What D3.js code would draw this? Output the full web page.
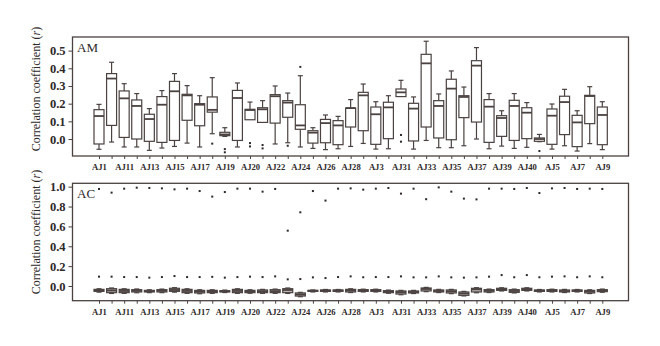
<!DOCTYPE html>
<html><head><meta charset="utf-8">
<script src="https://cdn.jsdelivr.net/npm/d3@7"></script>
<style>
html,body{margin:0;padding:0;background:#fff;}
svg{display:block;}
</style></head>
<body><svg id="c" width="660" height="346"></svg>
<script>
const categories = ["AJ1","AJ10","AJ11","AJ12","AJ13","AJ14","AJ15","AJ16","AJ17","AJ18","AJ19","AJ2","AJ20","AJ21","AJ22","AJ23","AJ24","AJ25","AJ26","AJ27","AJ28","AJ29","AJ3","AJ30","AJ31","AJ32","AJ33","AJ34","AJ35","AJ36","AJ37","AJ38","AJ39","AJ4","AJ40","AJ41","AJ5","AJ6","AJ7","AJ8","AJ9"];

// AM panel
const amLow  = [-0.058,-0.017,-0.045,-0.045,-0.064,-0.051,-0.042,-0.023,-0.045,0.030,0.015,-0.045,0.109,0.094,-0.028,-0.021,-0.045,-0.053,-0.060,-0.055,-0.042,-0.025,-0.057,-0.055,0.240,-0.057,-0.008,-0.049,-0.049,-0.038,0.000,-0.055,-0.040,-0.053,-0.047,-0.015,-0.057,-0.038,-0.068,-0.026,-0.060];
const amQ1   = [-0.028,0.077,0.009,0.000,-0.013,-0.019,-0.008,0.106,0.075,0.152,0.019,-0.008,0.109,0.094,0.090,0.123,0.055,-0.023,-0.021,-0.032,0.068,0.047,-0.030,0.002,0.240,-0.011,0.068,0.006,-0.004,0.121,0.096,-0.019,0.015,-0.008,0.002,-0.013,-0.030,0.025,-0.043,0.087,-0.032];
const amMed  = [0.130,0.342,0.230,0.187,0.113,0.194,0.270,0.247,0.194,0.165,0.026,0.232,0.164,0.168,0.242,0.206,0.077,0.036,0.090,0.077,0.175,0.247,0.140,0.179,0.264,0.172,0.428,0.187,0.285,0.238,0.415,0.183,0.119,0.187,0.149,0.000,0.132,0.209,0.094,0.243,0.136];
const amQ3   = [0.166,0.370,0.272,0.221,0.140,0.240,0.326,0.253,0.200,0.238,0.038,0.275,0.168,0.177,0.251,0.217,0.194,0.047,0.111,0.104,0.175,0.264,0.181,0.208,0.283,0.202,0.479,0.217,0.338,0.245,0.443,0.223,0.132,0.219,0.177,0.006,0.170,0.242,0.134,0.247,0.181];
const amHigh = [0.196,0.434,0.313,0.257,0.172,0.274,0.370,0.302,0.245,0.347,0.064,0.317,0.209,0.217,0.300,0.260,0.358,0.064,0.136,0.128,0.223,0.311,0.211,0.245,0.332,0.238,0.553,0.255,0.385,0.294,0.517,0.257,0.160,0.257,0.206,0.026,0.198,0.281,0.160,0.296,0.211];
const amOutliers = [[],[],[],[],[],[],[],[],[],[-0.026],[-0.057,-0.075],[],[-0.023,-0.042],[-0.034,-0.053],[],[-0.038],[0.408],[],[],[],[],[],[],[],[0.023,-0.015],[],[],[],[],[],[],[],[],[],[],[-0.068],[],[],[],[],[]];

// AC panel
const acLow  = [-0.062,-0.075,-0.074,-0.068,-0.067,-0.067,-0.062,-0.074,-0.078,-0.074,-0.066,-0.074,-0.073,-0.074,-0.074,-0.075,-0.108,-0.060,-0.060,-0.060,-0.066,-0.060,-0.060,-0.073,-0.088,-0.076,-0.057,-0.066,-0.077,-0.100,-0.068,-0.066,-0.050,-0.070,-0.050,-0.060,-0.060,-0.066,-0.060,-0.076,-0.063];
const acQ1   = [-0.054,-0.067,-0.067,-0.060,-0.060,-0.060,-0.054,-0.067,-0.070,-0.067,-0.060,-0.067,-0.067,-0.067,-0.067,-0.067,-0.101,-0.054,-0.054,-0.054,-0.060,-0.054,-0.054,-0.067,-0.081,-0.070,-0.050,-0.060,-0.070,-0.094,-0.060,-0.060,-0.044,-0.064,-0.044,-0.054,-0.054,-0.060,-0.054,-0.070,-0.057];
const acMed  = [-0.045,-0.045,-0.050,-0.048,-0.052,-0.048,-0.040,-0.050,-0.057,-0.055,-0.053,-0.050,-0.055,-0.053,-0.052,-0.040,-0.085,-0.048,-0.046,-0.046,-0.045,-0.044,-0.044,-0.057,-0.062,-0.060,-0.030,-0.050,-0.053,-0.075,-0.033,-0.048,-0.033,-0.050,-0.032,-0.047,-0.045,-0.050,-0.047,-0.056,-0.047];
const acQ3   = [-0.034,-0.027,-0.034,-0.037,-0.044,-0.037,-0.023,-0.034,-0.044,-0.044,-0.047,-0.034,-0.044,-0.040,-0.037,-0.027,-0.070,-0.044,-0.040,-0.040,-0.034,-0.037,-0.037,-0.047,-0.050,-0.050,-0.020,-0.040,-0.040,-0.060,-0.023,-0.037,-0.023,-0.037,-0.023,-0.040,-0.037,-0.040,-0.040,-0.044,-0.037];
const acHigh = [-0.028,-0.020,-0.028,-0.030,-0.038,-0.031,-0.017,-0.028,-0.038,-0.038,-0.041,-0.028,-0.038,-0.034,-0.031,-0.020,-0.064,-0.040,-0.035,-0.035,-0.028,-0.032,-0.032,-0.041,-0.044,-0.044,-0.014,-0.034,-0.034,-0.054,-0.017,-0.031,-0.018,-0.031,-0.018,-0.035,-0.032,-0.034,-0.035,-0.038,-0.031];
const acOutliers = [[0.977,0.094],[0.940,0.094],[0.980,0.090],[0.990,0.090],[0.987,0.084],[0.983,0.090],[0.973,0.100],[0.980,0.090],[0.956,0.090],[0.900,0.092],[0.946,0.084],[0.980,0.090],[0.980,0.094],[0.950,0.090],[0.977,0.097],[0.557,0.067],[0.742,0.070],[0.956,0.087],[0.860,0.080],[0.980,0.090],[0.983,0.097],[0.970,0.088],[0.980,0.090],[0.987,0.090],[0.930,0.097],[0.980,0.087],[0.874,0.087],[0.993,0.097],[0.950,0.087],[0.880,0.084],[0.872,0.087],[0.980,0.094],[0.980,0.110],[0.977,0.088],[0.987,0.110],[0.936,0.088],[0.983,0.094],[0.987,0.097],[0.977,0.088],[0.980,0.097],[0.977,0.088]];

const amTicks = [0.0,0.1,0.2,0.3,0.4,0.5];
const acTicks = [0.0,0.2,0.4,0.6,0.8,1.0];

const INK = "#4a4240";
const svg = d3.select("#c");
svg.append("rect").attr("width",660).attr("height",346).attr("fill","#fff");

const left = 72.5, right = 628.5;
const x = d3.scalePoint().domain(categories).range([99, 602.3]);

function panel(cfg){
  const y = d3.scaleLinear().domain(cfg.domain).range([cfg.bottom, cfg.top]);
  const g = svg.append("g");
  // y axis
  const ya = g.append("g").attr("transform",`translate(${left},0)`)
    .call(d3.axisLeft(y).tickValues(cfg.ticks).tickFormat(d3.format(".1f")).tickSize(4).tickPadding(3));
  ya.select(".domain").remove();
  ya.selectAll("line").attr("stroke",INK).attr("stroke-width",1);
  ya.selectAll("text").attr("font-family","'Liberation Serif',serif").attr("font-weight","bold")
    .attr("font-size",12.5).attr("fill","#2e2828");
  // x axis
  const xa = g.append("g").attr("transform",`translate(0,${cfg.bottom})`)
    .call(d3.axisBottom(x).tickSize(3).tickPadding(5).tickFormat((d,i)=> i%2===0 ? d : ""));
  xa.select(".domain").remove();
  xa.selectAll("line").attr("stroke",INK).attr("stroke-width",1);
  xa.selectAll("text").attr("font-family","'Liberation Serif',serif").attr("font-weight","bold")
    .attr("font-size",8.6).attr("fill","#2e2828");
  // frame
  g.append("rect").attr("x",left).attr("y",cfg.top).attr("width",right-left).attr("height",cfg.bottom-cfg.top)
    .attr("fill","none").attr("stroke",INK).attr("stroke-width",1.3);
  // panel label
  g.append("text").attr("x",77).attr("y",cfg.top+15).text(cfg.label)
    .attr("font-family","'Liberation Serif',serif").attr("font-size",13).attr("fill","#2e2828");
  // y title
  const t = g.append("text").attr("transform",`translate(40,${cfg.titleY}) rotate(-90)`)
    .attr("text-anchor","middle").attr("font-family","'Liberation Serif',serif").attr("font-size",12).attr("fill","#2e2828");
  t.append("tspan").text("Correlation coefficient (");
  t.append("tspan").attr("font-style","italic").text("r");
  t.append("tspan").text(")");

  const bw = 10, cw = 5;
  const boxes = g.append("g");
  categories.forEach((c,i)=>{
    const cx = x(c);
    const bg = boxes.append("g").attr("stroke",INK).attr("fill","none");
    if (cfg.high[i] > cfg.q3[i]) {
      bg.append("line").attr("x1",cx).attr("x2",cx).attr("y1",y(cfg.high[i])).attr("y2",y(cfg.q3[i])).attr("stroke-width",1.2);
      bg.append("line").attr("x1",cx-cw/2).attr("x2",cx+cw/2).attr("y1",y(cfg.high[i])).attr("y2",y(cfg.high[i])).attr("stroke-width",1.2);
    }
    if (cfg.low[i] < cfg.q1[i]) {
      bg.append("line").attr("x1",cx).attr("x2",cx).attr("y1",y(cfg.low[i])).attr("y2",y(cfg.q1[i])).attr("stroke-width",1.2);
      bg.append("line").attr("x1",cx-cw/2).attr("x2",cx+cw/2).attr("y1",y(cfg.low[i])).attr("y2",y(cfg.low[i])).attr("stroke-width",1.2);
    }
    bg.append("rect").attr("x",cx-bw/2).attr("width",bw)
      .attr("y",y(cfg.q3[i])).attr("height",Math.max(0.5,y(cfg.q1[i])-y(cfg.q3[i])))
      .attr("fill",cfg.fill).attr("stroke-width",1.2);
    bg.append("line").attr("x1",cx-bw/2).attr("x2",cx+bw/2).attr("y1",y(cfg.med[i])).attr("y2",y(cfg.med[i])).attr("stroke-width",1.8);
    cfg.out[i].forEach(v=>{
      boxes.append("rect").attr("x",cx-1).attr("y",y(v)-1).attr("width",2).attr("height",2).attr("fill","#2e2828");
    });
  });
}

panel({top:37, bottom:156, domain:[-0.096,0.577], ticks:amTicks, label:"AM", titleY:89,
  low:amLow, q1:amQ1, med:amMed, q3:amQ3, high:amHigh, out:amOutliers, fill:"#fff"});
panel({top:183.3, bottom:300.7, domain:[-0.148,1.034], ticks:acTicks, label:"AC", titleY:232,
  low:acLow, q1:acQ1, med:acMed, q3:acQ3, high:acHigh, out:acOutliers, fill:"#b8b2b0"});
</script>
</body></html>
